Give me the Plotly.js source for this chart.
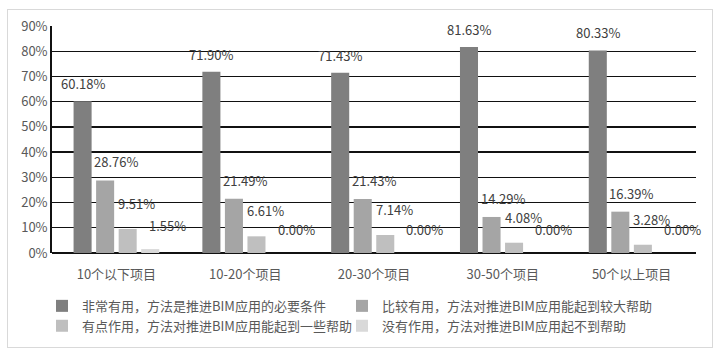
<!DOCTYPE html>
<html><head><meta charset="utf-8">
<script src="https://cdn.plot.ly/plotly-3.0.1.min.js"></script>
<style>body{margin:0;padding:0;background:#fff}#wrap{position:relative;width:720px;height:356px}#chart{width:720px;height:356px}#frame{position:absolute;left:7px;top:9px;width:704px;height:337px;border:1px solid #d9d9d9;pointer-events:none}</style>
</head><body><div id="wrap"><div id="chart"></div><div id="frame"></div></div>
<script>
const categories = ["10个以下项目", "10-20个项目", "20-30个项目", "30-50个项目", "50个以上项目"];
const seriesNames = ["非常有用，方法是推进BIM应用的必要条件", "比较有用，方法对推进BIM应用能起到较大帮助", "有点作用，方法对推进BIM应用能起到一些帮助", "没有作用，方法对推进BIM应用起不到帮助"];
const veryUseful = [60.18, 71.90, 71.43, 81.63, 80.33];
const fairlyUseful = [28.76, 21.49, 21.43, 14.29, 16.39];
const somewhatUseful = [9.51, 6.61, 7.14, 4.08, 3.28];
const notUseful = [1.55, 0.00, 0.00, 0.00, 0.00];
const yTicks = [0, 10, 20, 30, 40, 50, 60, 70, 80, 90];

const allSeries = [veryUseful, fairlyUseful, somewhatUseful, notUseful];
const colors = ["#7f7f7f", "#a5a5a5", "#bfbfbf", "#d9d9d9"];
const legendIds = ["legend", "legend2", "legend", "legend2"];
const labelXShift = [0, 11, 9, 17];
const labelYShift = [6, 7, 14, 12];
const font = "'Noto Sans CJK SC', 'Microsoft YaHei', sans-serif";
const bargap = 0.3, nS = 4;
const slot = (1 - bargap) / nS;

const traces = allSeries.map((vals, j) => ({
  type: "bar", name: seriesNames[j], x: categories.map((c, i) => i), y: vals,
  marker: {color: colors[j], line: {width: 0}}, hoverinfo: "none", legend: legendIds[j]
}));

const annotations = [];
allSeries.forEach((vals, j) => {
  vals.forEach((v, i) => {
    annotations.push({
      x: i + (j - (nS - 1) / 2) * slot, y: v, xref: "x", yref: "y",
      text: v.toFixed(2) + "%", showarrow: false, xanchor: "center", yanchor: "bottom",
      xshift: labelXShift[j], yshift: labelYShift[j],
      font: {family: font, size: 13, color: "#404040"}
    });
  });
});

const legendBase = {
  orientation: "v", xanchor: "left", y: -0.167, yanchor: "top",
  traceorder: "normal", font: {family: font, size: 13, color: "#595959"}, itemwidth: 30, bgcolor: "rgba(0,0,0,0)"
};

const layout = {
  width: 720, height: 356,
  margin: {l: 52, r: 24, t: 26, b: 103},
  paper_bgcolor: "#fff", plot_bgcolor: "#fff",
  barmode: "group", bargap: bargap, bargroupgap: 0.2,
  font: {family: font, size: 13, color: "#595959"},
  showlegend: true,
  xaxis: {
    tickmode: "array", tickvals: categories.map((c, i) => i), ticktext: categories,
    range: [-0.5, categories.length - 0.5], showgrid: false, zeroline: false,
    showline: false, ticks: "", ticklabelstandoff: 12, automargin: false,
    tickfont: {family: font, size: 13, color: "#595959"}
  },
  yaxis: {
    range: [0, 90], tickmode: "array", tickvals: yTicks, ticktext: yTicks.map(t => t + "%"),
    showgrid: true, gridcolor: "#111", gridwidth: 1.4, zeroline: true, zerolinecolor: "#111", zerolinewidth: 1.6,
    showline: true, linecolor: "#111", linewidth: 1.8, ticks: "", automargin: false,
    tickfont: {family: font, size: 13, color: "#595959"}
  },
  legend: Object.assign({}, legendBase, {x: -0.0155}),
  legend2: Object.assign({}, legendBase, {x: 0.4503}),
  annotations: annotations
};

Plotly.newPlot("chart", traces, layout, {displayModeBar: false, staticPlot: true});
</script></body></html>
